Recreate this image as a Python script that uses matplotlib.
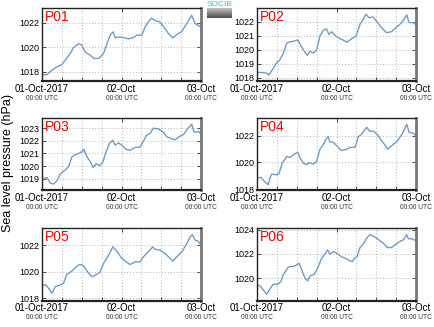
import numpy as np
import matplotlib
matplotlib.use('Agg')
import matplotlib.pyplot as plt
from matplotlib.ticker import MultipleLocator
from matplotlib.transforms import blended_transform_factory

plt.rcParams['font.family'] = ['Liberation Sans', 'DejaVu Sans']

# hours since 01-Oct-2017 00:00 UTC, sea level pressure (hPa)
p01_h = [0, 1.5, 3.0, 4.5, 6.0, 7.0, 8.5, 9.5, 11.0, 12.0, 13.1, 14.6, 15.6, 17.1, 18.6, 19.6, 20.6, 21.4, 22.1, 23.6,
         25.1, 26.1, 27.6, 28.6, 30.1, 31.1, 32.1, 33.1, 34.1, 35.6, 37.1, 38.2, 39.5, 40.7, 42.2, 43.7, 45.2, 46.2, 47.2, 48.0]
p01_v = [1017.73, 1017.78, 1018.14, 1018.4, 1018.6, 1018.95, 1019.5, 1019.98, 1020.3, 1020.2, 1019.6, 1019.36, 1019.1,
         1019.1, 1019.5, 1020.3, 1021.0, 1021.27, 1020.8, 1020.85, 1020.77, 1020.7, 1020.8, 1021.0, 1021.0, 1021.67,
         1022.08, 1022.4, 1022.2, 1022.08, 1021.54, 1021.13, 1020.78, 1021.05, 1021.3, 1021.95, 1022.63, 1021.95,
         1021.8, 1021.67]

p02_h = [0, 1.4, 2.9, 3.6, 4.4, 5.9, 6.9, 8.0, 9.0, 10.0, 11.3, 12.3, 13.0, 14.0, 15.2, 16.0, 17.0, 18.0, 19.0, 20.0,
         21.0, 21.7, 22.5, 24.0, 25.6, 27.1, 28.6, 29.9, 31.1, 32.1, 32.9, 33.8, 35.1, 36.4, 37.6, 39.1, 40.6, 42.2,
         43.7, 45.2, 45.9, 47.2, 48.0]
p02_v = [1018.39, 1018.39, 1018.34, 1018.2, 1018.5, 1019.06, 1019.3, 1019.78, 1020.5, 1020.58, 1020.63, 1020.72,
         1020.39, 1020.0, 1019.6, 1019.9, 1019.78, 1020.0, 1020.99, 1021.4, 1021.5, 1021.1, 1021.3, 1020.94, 1020.75,
         1020.55, 1020.8, 1021.0, 1021.83, 1022.2, 1022.55, 1022.3, 1022.35, 1021.95, 1021.59, 1021.23, 1021.3,
         1021.64, 1021.95, 1022.5, 1021.95, 1021.95, 1021.78]

p03_h = [0, 0.7, 1.5, 2.5, 3.5, 4.5, 5.5, 7.0, 8.0, 9.0, 10.0, 11.0, 12.0, 12.6, 13.6, 14.6, 15.4, 16.4, 17.4, 18.4,
         19.4, 20.4, 21.4, 22.1, 23.1, 24.1, 25.4, 26.6, 28.1, 29.6, 30.6, 31.6, 32.6, 33.6, 35.1, 36.6, 37.6, 39.2,
         40.2, 41.5, 42.7, 43.7, 45.2, 45.9, 47.2, 48.0]
p03_v = [1018.79, 1019.05, 1019.1, 1018.66, 1018.58, 1018.84, 1019.37, 1019.7, 1019.95, 1020.72, 1020.9, 1021.0,
         1021.13, 1021.33, 1020.74, 1020.34, 1019.9, 1020.2, 1020.03, 1020.34, 1021.18, 1021.8, 1022.05, 1021.66,
         1021.84, 1021.66, 1021.32, 1021.26, 1021.47, 1021.5, 1021.97, 1022.45, 1022.58, 1023.0, 1022.95, 1022.68,
         1022.34, 1022.16, 1022.08, 1022.34, 1022.5, 1022.87, 1023.32, 1022.68, 1022.74, 1022.55]

p04_h = [0, 1.2, 2.2, 3.4, 3.9, 4.4, 5.6, 6.6, 7.6, 9.0, 10.0, 11.3, 12.3, 13.0, 14.0, 15.0, 15.8, 17.0, 18.0, 19.0,
         20.0, 20.7, 21.5, 22.0, 23.0, 24.0, 25.4, 26.6, 28.1, 29.6, 30.6, 31.6, 33.1, 34.1, 35.1, 36.4, 37.6, 38.6,
         39.4, 40.6, 42.2, 43.7, 45.2, 45.9, 47.2, 48.0]
p04_v = [1018.83, 1018.88, 1018.58, 1018.33, 1018.83, 1019.13, 1019.08, 1019.13, 1019.95, 1020.45, 1020.38, 1020.63,
         1020.78, 1020.33, 1019.95, 1019.83, 1020.0, 1019.88, 1020.08, 1021.0, 1021.33, 1021.7, 1021.95, 1021.53,
         1021.53, 1021.28, 1020.9, 1020.95, 1021.13, 1021.15, 1021.95, 1022.13, 1022.65, 1022.33, 1022.38, 1022.08,
         1021.63, 1021.33, 1021.0, 1021.25, 1021.58, 1022.08, 1022.88, 1022.28, 1022.2, 1022.03]

p05_h = [0, 1.0, 2.0, 3.0, 4.0, 5.5, 6.5, 7.5, 9.0, 10.0, 11.3, 12.3, 13.1, 14.1, 15.1, 16.1, 17.4, 18.6, 20.1, 21.4,
         22.1, 23.1, 24.1, 25.4, 26.6, 28.1, 29.6, 30.6, 31.6, 32.6, 33.4, 34.1, 35.6, 37.1, 38.2, 39.5, 40.7, 42.2,
         43.7, 44.7, 45.4, 46.2, 47.2, 48.0]
p05_v = [1018.88, 1019.05, 1018.75, 1018.38, 1018.88, 1019.0, 1019.13, 1019.8, 1020.05, 1020.3, 1020.55, 1020.5,
         1020.25, 1019.88, 1019.63, 1019.75, 1019.93, 1020.63, 1021.25, 1021.88, 1021.7, 1021.38, 1021.0, 1020.75,
         1020.55, 1020.75, 1020.75, 1021.13, 1021.38, 1021.63, 1021.88, 1021.7, 1021.63, 1021.38, 1021.13, 1020.8,
         1021.13, 1021.5, 1022.13, 1022.63, 1022.8, 1022.38, 1022.3, 1022.0]

p06_h = [0, 0.9, 1.9, 2.9, 3.9, 4.9, 6.2, 7.2, 7.9, 9.3, 10.0, 11.3, 12.3, 12.7, 13.5, 14.5, 15.3, 16.0, 17.3, 18.5,
         19.5, 20.5, 21.3, 22.0, 23.0, 24.0, 25.4, 26.6, 28.1, 28.8, 29.6, 30.1, 31.1, 32.1, 33.1, 34.1, 35.1, 36.1,
         37.1, 38.1, 39.4, 40.6, 41.7, 43.2, 44.2, 45.2, 45.7, 46.7, 48.0]
p06_v = [1019.45, 1019.37, 1019.04, 1018.68, 1019.12, 1019.5, 1019.5, 1019.72, 1020.28, 1020.88, 1020.96, 1021.0,
         1021.15, 1021.24, 1020.69, 1020.0, 1019.78, 1020.19, 1020.33, 1020.96, 1021.65, 1021.98, 1022.34, 1021.98,
         1022.2, 1022.07, 1021.79, 1021.65, 1021.43, 1021.38, 1021.71, 1021.71, 1022.53, 1022.81, 1023.31, 1023.59,
         1023.45, 1023.31, 1023.09, 1022.9, 1022.53, 1022.53, 1022.76, 1023.04, 1023.17, 1023.59, 1023.26, 1023.26,
         1023.09]

names = ['P01', 'P02', 'P03', 'P04', 'P05', 'P06']
hours = [p01_h, p02_h, p03_h, p04_h, p05_h, p06_h]
values = [p01_v, p02_v, p03_v, p04_v, p05_v, p06_v]
ylims = [(1017.25, 1023.2), (1017.78, 1022.97), (1018.08, 1023.83),
         (1017.9, 1023.37), (1017.82, 1023.3), (1018.15, 1024.14)]
ysteps = [2, 1, 1, 2, 2, 2]

day_labels = ['01-Oct-2017', '02-Oct', '03-Oct']

W, H = 435, 327
fig = plt.figure(figsize=(W / 100, H / 100), dpi=100)

lefts = [42, 257]
tops = [8.3, 117.7, 228]
aw, ah = 159, 72.7

for i in range(6):
    col = i % 2
    row = i // 2
    ax = fig.add_axes([lefts[col] / W, 1 - (tops[row] + ah) / H, aw / W, ah / H])
    ax.plot(hours[i], values[i], color='#6f9cc9', lw=1.0)
    ax.set_xlim(0, 48)
    ax.set_ylim(*ylims[i])
    ax.yaxis.set_major_locator(MultipleLocator(ysteps[i]))
    ax.xaxis.set_major_locator(MultipleLocator(24))
    ax.xaxis.set_minor_locator(MultipleLocator(6))
    ax.grid(True, which='both', axis='x', color='#b8b8b8', ls=(0, (1, 2)), lw=0.7)
    ax.grid(True, which='major', axis='y', color='#b8b8b8', ls=(0, (1, 2)), lw=0.7)
    ax.tick_params(which='both', direction='in', length=3, width=0.6, colors='#333333',
                   labelcolor='black', labelsize=6.5, pad=2)
    ax.tick_params(axis='y', right=True)
    ax.tick_params(axis='x', top=True)
    ax.set_xticks([0, 24, 48])
    ax.set_xticklabels(day_labels, fontsize=7)
    tr = blended_transform_factory(ax.transData, ax.transAxes)
    for t in [0, 24, 48]:
        ax.text(t, -0.235, '00:00 UTC', transform=tr, ha='center', va='center', fontsize=4.8, color='#333333')
    for s in ['left', 'top']:
        ax.spines[s].set_color('#222222')
        ax.spines[s].set_linewidth(1.0)
    ax.spines['bottom'].set_color('#222222')
    ax.spines['bottom'].set_linewidth(1.6)
    ax.spines['right'].set_color('#777777')
    ax.spines['right'].set_linewidth(2.0)
    ax.text(0.02, 0.97, names[i], transform=ax.transAxes, ha='left', va='top', color='red', fontsize=10)

fig.text(8 / W, 0.5, 'Sea level pressure (hPa)', rotation=90, ha='center', va='center', fontsize=9)

# small logo
lax = fig.add_axes([207 / W, 1 - 18 / H, 25 / W, 10 / H])
lax.imshow(np.linspace(0.75, 0.3, 20).reshape(-1, 1), cmap='gray', aspect='auto', vmin=0, vmax=1)
lax.axis('off')
fig.text(219.5 / W, 1 - 4.5 / H, 'SOCIB', ha='center', va='center', fontsize=6, color='#3cc0d8')

fig.savefig('out.png', dpi=100)
